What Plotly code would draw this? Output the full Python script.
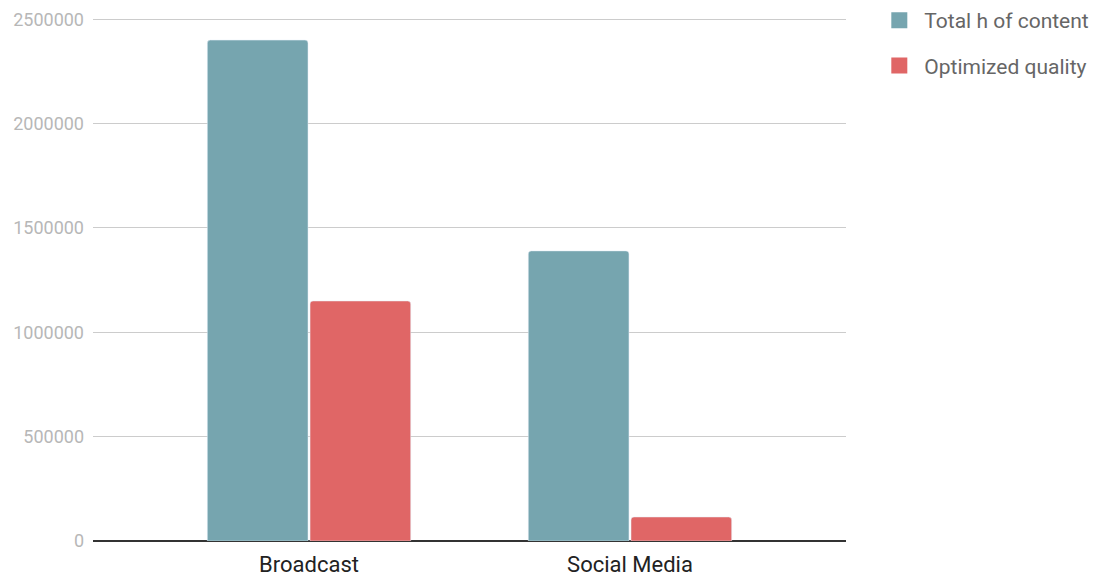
import plotly.graph_objects as go

categories = ["Broadcast", "Social Media"]
total_content = [2400000, 1390000]
optimized_quality = [1150000, 115000]
y_ticks = [0, 500000, 1000000, 1500000, 2000000, 2500000]
series_names = ["Total h of content", "Optimized quality"]
series_colors = ["#76A5AF", "#E06666"]

fig = go.Figure()
for vals, name, col in zip([total_content, optimized_quality], series_names, series_colors):
    fig.add_trace(go.Bar(x=categories, y=vals, name=name, showlegend=False,
                         marker=dict(color=col, cornerradius=3)))
for i, (name, col) in enumerate(zip(series_names, series_colors)):
    fig.add_trace(go.Scatter(x=[None], y=[None], mode="markers", name=name,
                             legendgroup=str(i),
                             marker=dict(symbol="square", size=22, color=col)))

fig.update_layout(
    width=1097, height=579,
    margin=dict(l=93, r=251, t=18, b=38, autoexpand=False),
    paper_bgcolor="white", plot_bgcolor="white",
    font=dict(family="Roboto", color="#222"),
    barmode="group", bargap=0.36, bargroupgap=0.02,
    legend=dict(xref="container", yref="container", x=0.797, y=1.0,
                xanchor="left", yanchor="top",
                font=dict(size=21, color="#666666"), tracegroupgap=15,
                itemwidth=40),
    showlegend=True,
)
fig.update_xaxes(range=[-0.673, 1.673], showgrid=False, showline=False,
                 ticks="", automargin=False, ticklabelstandoff=8,
                 tickfont=dict(size=22, color="#222"))
fig.update_yaxes(range=[0, 2506000], tickvals=y_ticks,
                 ticktext=[str(v) for v in y_ticks], automargin=False,
                 showgrid=True, gridcolor="#cccccc", gridwidth=1,
                 zeroline=True, zerolinecolor="#333333", zerolinewidth=1.5,
                 tickfont=dict(size=18, color="#b7b7b7"), ticks="", ticklabelstandoff=8)

fig.write_html("out.html", config={"displayModeBar": False},
               post_script="document.body.style.margin='0';")
